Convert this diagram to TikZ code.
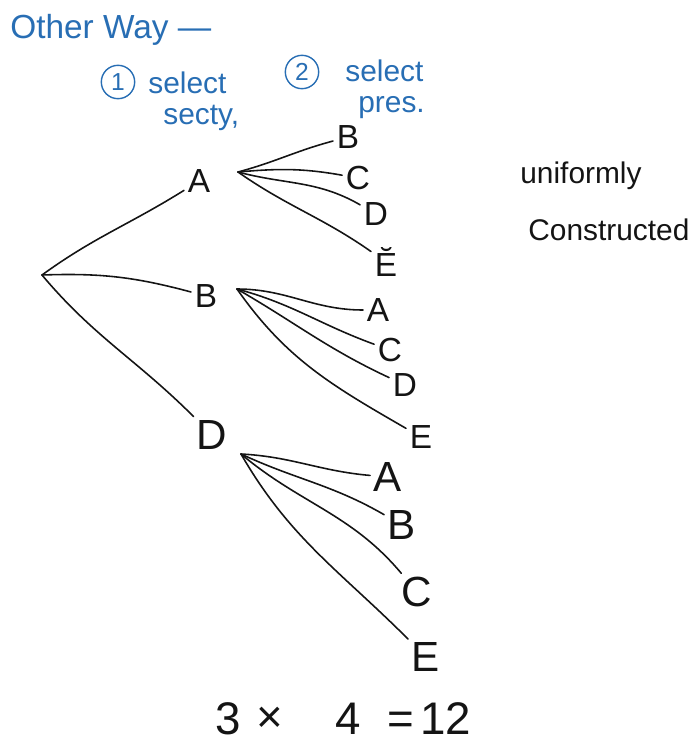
\documentclass[tikz,border=0pt]{standalone}
\usepackage{fontspec}
\setmainfont{Liberation Sans}
\definecolor{handblue}{RGB}{40,110,180}
\definecolor{ink}{RGB}{20,20,20}
\tikzset{
  edge/.style={draw=ink,line width=0.9pt,line cap=round},
  lbl/.style={inner sep=2pt,text=ink,font=\fontsize{19}{22}\selectfont},
  biglbl/.style={inner sep=2pt,text=ink,font=\fontsize{24}{28}\selectfont},
  bluetxt/.style={inner sep=0pt,text=handblue,font=\fontsize{17}{20}\selectfont,anchor=base west},
  note/.style={inner sep=0pt,text=ink,font=\fontsize{17}{20}\selectfont,anchor=base west},
  eqn/.style={inner sep=0pt,text=ink,font=\fontsize{26}{30}\selectfont,anchor=base},
  num/.style={circle,draw=handblue,line width=0.8pt,inner sep=0pt,text=handblue,font=\fontsize{14}{16}\selectfont,minimum size=19pt}
}
\begin{document}
\begin{tikzpicture}[x=0.02cm,y=-0.02cm]
\useasboundingbox (0,0) rectangle (691,744);
% header
\node[bluetxt,font=\fontsize{19}{22}\selectfont] (title) at (10,38) {Other Way —};
\node[num] (n1) at (118,82) {1};
\node[bluetxt] (s1) at (148,93) {select};
\node[bluetxt] (s1b) at (163,124) {secty,};
\node[num] (n2) at (302,72) {2};
\node[bluetxt] (s2) at (345,81) {select};
\node[bluetxt] (s2b) at (358,112) {pres.};
% right note
\node[note] (u1) at (520,183) {uniformly};
\node[note] (u2) at (528,240) {Constructed};
% root level
\coordinate (root) at (42,275);
\node[lbl] (A) at (199,181) {A};
\node[lbl] (B) at (206,296) {B};
\node[biglbl] (D) at (212,435) {D};
\draw[edge] (root) to[out=36,in=212] (A);
\draw[edge] (root) to[out=2,in=165] (B);
\draw[edge] (root) to[out=-50,in=135] (D);
% hubs
\coordinate (hA) at (238,172);
\coordinate (hB) at (237,289);
\coordinate (hD) at (241,454);
% A children
\node[lbl] (AB) at (348,137) {B};
\node[lbl] (AC) at (358,178) {C};
\node[lbl] (AD) at (376,214) {D};
\node[lbl] (AE) at (386,262) {Ĕ};
\draw[edge] (hA) to[out=15,in=195] (AB);
\draw[edge] (hA) to[out=5,in=170] (AC);
\draw[edge] (hA) to[out=-15,in=150] (AD);
\draw[edge] (hA) to[out=-35,in=145] (AE);
% B children
\node[lbl] (BA) at (378,310) {A};
\node[lbl] (BC) at (390,350) {C};
\node[lbl] (BD) at (405,385) {D};
\node[lbl] (BE) at (421,437) {E};
\draw[edge] (hB) to[out=0,in=180] (BA);
\draw[edge] (hB) to[out=-15,in=160] (BC);
\draw[edge] (hB) to[out=-30,in=155] (BD);
\draw[edge] (hB) to[out=-55,in=150] (BE);
% D children
\node[biglbl] (DA) at (388,477) {A};
\node[biglbl] (DB) at (402,525) {B};
\node[biglbl] (DC) at (417,592) {C};
\node[biglbl] (DE) at (426,657) {E};
\draw[edge] (hD) to[out=-3,in=175] (DA);
\draw[edge] (hD) to[out=-25,in=150] (DB);
\draw[edge] (hD) to[out=-40,in=130] (DC);
\draw[edge] (hD) to[out=-60,in=135] (DE);
% equation
\node[eqn] (e3) at (228,734) {3};
\node[eqn] (ex) at (270,732) {×};
\node[eqn] (e4) at (348,734) {4};
\node[eqn] (eeq) at (401,734) {=};
\node[eqn] (e12) at (446,734) {12};
\end{tikzpicture}
\end{document}
